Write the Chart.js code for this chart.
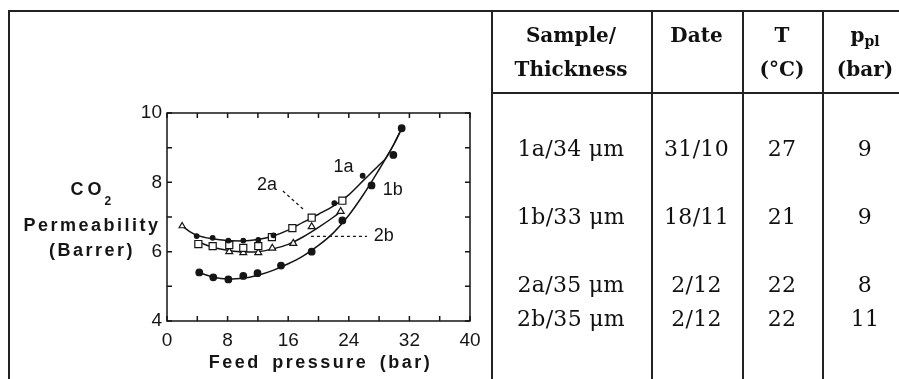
<!DOCTYPE html>
<html>
<head>
<meta charset="utf-8">
<script src="https://cdn.jsdelivr.net/npm/chart.js@4"></script>
<style>
  html, body { margin: 0; padding: 0; background: #fff; }
  body { width: 899px; height: 379px; position: relative; overflow: hidden; }
  #plot { position: absolute; left: 0; top: 0; }
  .rule { position: absolute; background: #222; }
  .cell { position: absolute; text-align: center; font-family: "DejaVu Serif", serif; color: #111; line-height: 1; white-space: nowrap; }
  .head { font-weight: bold; font-size: 20px; }
  .body { font-size: 22px; letter-spacing: 0.3px; }
  .head sub { font-size: 14px; vertical-align: -4px; }
</style>
</head>
<body>
<canvas id="plot" width="491" height="379"></canvas>

<!-- cell borders -->
<div class="rule" style="left:8px;top:10px;width:891px;height:2px"></div>
<div class="rule" style="left:8px;top:10px;width:2px;height:369px"></div>
<div class="rule" style="left:491px;top:10px;width:2px;height:369px"></div>
<div class="rule" style="left:651px;top:10px;width:1.5px;height:369px"></div>
<div class="rule" style="left:742px;top:10px;width:1.5px;height:369px"></div>
<div class="rule" style="left:822px;top:10px;width:1.5px;height:369px"></div>
<div class="rule" style="left:491px;top:92px;width:408px;height:1.5px"></div>

<div id="table"></div>

<script>
// fitted curves (feed pressure in bar, permeability in Barrer)
const fit1aX = [2.0, 3, 4, 6, 8, 10, 12, 14, 16, 18, 20, 22, 24, 26, 28, 28.9, 30, 31];
const fit1aY = [6.74, 6.58, 6.47, 6.37, 6.32, 6.31, 6.35, 6.45, 6.62, 6.85, 7.08, 7.32, 7.64, 8.07, 8.50, 8.70, 9.12, 9.56];
const fit1bX = [4.2, 6, 8, 10, 12, 14, 16, 18, 20, 22, 24, 26, 28, 28.9, 30, 31];
const fit1bY = [5.40, 5.27, 5.21, 5.23, 5.32, 5.46, 5.65, 5.88, 6.18, 6.55, 7.05, 7.67, 8.37, 8.70, 9.12, 9.56];
const fit2bX = [4.0, 6, 8, 10, 12, 14, 16, 18, 20, 22, 23];
const fit2bY = [6.29, 6.13, 6.04, 5.99, 6.00, 6.08, 6.21, 6.43, 6.70, 7.00, 7.17];

// measured points
const pts1aX = [2.0, 3.92, 6.03, 8.1, 10.07, 12.05, 14.05, 22.09, 25.83];
const pts1aY = [6.74, 6.45, 6.40, 6.32, 6.32, 6.34, 6.47, 7.40, 8.19];
const pts1bX = [4.26, 6.11, 8.1, 10.07, 11.95, 15.05, 19.1, 23.15, 27.0, 29.88, 30.98];
const pts1bY = [5.40, 5.26, 5.20, 5.30, 5.38, 5.60, 6.00, 6.90, 7.91, 8.79, 9.56];
const pts2aX = [4.14, 6.03, 8.22, 10.07, 12.05, 13.85, 16.55, 19.1, 23.15];
const pts2aY = [6.22, 6.16, 6.19, 6.11, 6.16, 6.42, 6.68, 6.98, 7.47];
const pts2bX = [8.22, 10.07, 12.05, 13.9, 16.67, 19.1, 22.93];
const pts2bY = [6.00, 5.97, 5.97, 6.10, 6.24, 6.72, 7.16];

// axis ranges and tick steps
const xMin = 0, xMax = 40, xStep = 4, xLabelEvery = 8;
const yMin = 4, yMax = 10, yStep = 1, yLabelEvery = 2;

// curve names and where they sit (data units)
const curveNames = ['1a', '1b', '2a', '2b'];
const curveNameX = [23.3, 29.8, 13.2, 28.6];
const curveNameY = [8.44, 7.78, 7.92, 6.44];
// leader lines from the 2a and 2b names: [x0, y0, x1, y1]
const leader2a = [15.3, 7.75, 17.95, 7.23];
const leader2b = [19.0, 6.44, 26.4, 6.44];

// table on the right
const tableHead = [['Sample/', 'Thickness'], ['Date', ''], ['T', '(°C)'], ['p<sub>pl</sub>', '(bar)']];
const samples = ['1a/34 μm', '1b/33 μm', '2a/35 μm', '2b/35 μm'];
const dates = ['31/10', '18/11', '2/12', '2/12'];
const temps = ['27', '21', '22', '22'];
const plPressures = ['9', '9', '8', '11'];

const ink = '#151515';
const pairs = (xs, ys) => xs.map((x, i) => ({ x, y: ys[i] }));

function fitLine(xs, ys) {
  return {
    data: pairs(xs, ys),
    borderColor: ink,
    borderWidth: 1.5,
    pointRadius: 0,
    cubicInterpolationMode: 'monotone',
    order: 2
  };
}

function markers(xs, ys, style, radius, filled) {
  return {
    data: pairs(xs, ys),
    showLine: false,
    pointStyle: style,
    pointRadius: radius,
    pointBorderWidth: 1.2,
    pointBorderColor: ink,
    pointBackgroundColor: filled ? ink : '#fff',
    order: 1
  };
}

// 1a starts with an open marker at the lowest pressure
const set1a = markers(pts1aX, pts1aY, 'circle', 2.3, true);
set1a.pointStyle = c => (c.dataIndex === 0 ? 'triangle' : 'circle');
set1a.pointRadius = c => (c.dataIndex === 0 ? 3.5 : 2.3);
set1a.pointBackgroundColor = c => (c.dataIndex === 0 ? '#fff' : ink);

const titleFont = 'bold 18px "Liberation Sans", Arial, sans-serif';
const subFont = 'bold 12px "Liberation Sans", Arial, sans-serif';

const decor = {
  id: 'decor',
  afterDraw(chart) {
    const { ctx, chartArea: a, scales: { x, y } } = chart;
    ctx.save();
    ctx.strokeStyle = ink;
    ctx.lineWidth = 1.5;
    ctx.strokeRect(a.left, a.top, a.right - a.left, a.bottom - a.top);

    // inward ticks on all four sides
    ctx.beginPath();
    x.ticks.forEach(t => {
      const px = x.getPixelForValue(t.value);
      ctx.moveTo(px, a.bottom); ctx.lineTo(px, a.bottom - 5);
      ctx.moveTo(px, a.top); ctx.lineTo(px, a.top + 5);
    });
    y.ticks.forEach(t => {
      const py = y.getPixelForValue(t.value);
      ctx.moveTo(a.left, py); ctx.lineTo(a.left + 5, py);
      ctx.moveTo(a.right, py); ctx.lineTo(a.right - 5, py);
    });
    ctx.stroke();

    // leader lines
    ctx.lineWidth = 1.2;
    ctx.setLineDash([3, 3]);
    [leader2a, leader2b].forEach(l => {
      ctx.beginPath();
      ctx.moveTo(x.getPixelForValue(l[0]), y.getPixelForValue(l[1]));
      ctx.lineTo(x.getPixelForValue(l[2]), y.getPixelForValue(l[3]));
      ctx.stroke();
    });
    ctx.setLineDash([]);

    ctx.fillStyle = ink;
    ctx.textAlign = 'center';
    ctx.textBaseline = 'middle';
    ctx.font = '18px "Liberation Sans", Arial, sans-serif';
    curveNames.forEach((n, i) => {
      ctx.fillText(n, x.getPixelForValue(curveNameX[i]), y.getPixelForValue(curveNameY[i]));
    });

    // axis titles, letter-spaced
    ctx.textBaseline = 'alphabetic';
    ctx.letterSpacing = '2.5px';
    const cx = 92;
    ctx.textAlign = 'left';
    ctx.font = titleFont;
    const coW = ctx.measureText('CO').width + 2;
    ctx.font = subFont;
    const subW = ctx.measureText('2').width;
    const coLeft = cx - (coW + subW) / 2;
    ctx.font = titleFont;
    ctx.letterSpacing = '4px';
    ctx.fillText('CO', coLeft, 195);
    ctx.font = subFont;
    ctx.fillText('2', coLeft + coW, 205);
    ctx.letterSpacing = '2.5px';
    ctx.font = titleFont;
    ctx.textAlign = 'center';
    ctx.fillText('Permeability', cx, 231);
    ctx.fillText('(Barrer)', cx, 256);
    ctx.wordSpacing = '4px';
    ctx.fillText('Feed pressure (bar)', (a.left + a.right) / 2 + 2, 368);
    ctx.restore();
  }
};

new Chart(document.getElementById('plot'), {
  type: 'line',
  data: {
    datasets: [
      set1a,
      markers(pts1bX, pts1bY, 'circle', 3.3, true),
      markers(pts2aX, pts2aY, 'rect', 5, false),
      markers(pts2bX, pts2bY, 'triangle', 4, false),
      fitLine(fit1aX, fit1aY),
      fitLine(fit1bX, fit1bY),
      fitLine(fit2bX, fit2bY)
    ]
  },
  options: {
    responsive: false,
    animation: false,
    layout: { padding: { left: 127, right: 21, top: 113, bottom: 28 } },
    plugins: { legend: { display: false }, tooltip: { enabled: false } },
    scales: {
      x: {
        type: 'linear',
        min: xMin,
        max: xMax,
        grid: { display: false, drawTicks: false },
        border: { display: false },
        ticks: {
          stepSize: xStep,
          autoSkip: false,
          maxRotation: 0,
          padding: 8,
          color: ink,
          font: { family: '"Liberation Sans", Arial, sans-serif', size: 19 },
          callback: v => (v % xLabelEvery === 0 ? v : '')
        },
        afterFit(s) { s.height = 30; }
      },
      y: {
        type: 'linear',
        min: yMin,
        max: yMax,
        grid: { display: false, drawTicks: false },
        border: { display: false },
        ticks: {
          stepSize: yStep,
          autoSkip: false,
          padding: 5,
          color: ink,
          font: { family: '"Liberation Sans", Arial, sans-serif', size: 19 },
          callback: v => (v % yLabelEvery === 0 ? v : '')
        },
        afterFit(s) { s.width = 40; }
      }
    }
  },
  plugins: [decor]
});

// table text
const colCenters = [571, 696.5, 782, 865];
const rowBaselines = [157, 225, 293, 327];
const table = document.getElementById('table');

function put(html, cls, center, top) {
  const d = document.createElement('div');
  d.className = 'cell ' + cls;
  d.style.left = (center - 80) + 'px';
  d.style.width = '160px';
  d.style.top = top + 'px';
  d.innerHTML = html;
  table.appendChild(d);
}

tableHead.forEach((h, c) => {
  put(h[0], 'head', colCenters[c], 42 - 17);
  put(h[1], 'head', colCenters[c], 76 - 17);
});
[samples, dates, temps, plPressures].forEach((col, c) => {
  col.forEach((v, r) => put(v, 'body', colCenters[c], rowBaselines[r] - 19));
});
</script>
</body>
</html>
